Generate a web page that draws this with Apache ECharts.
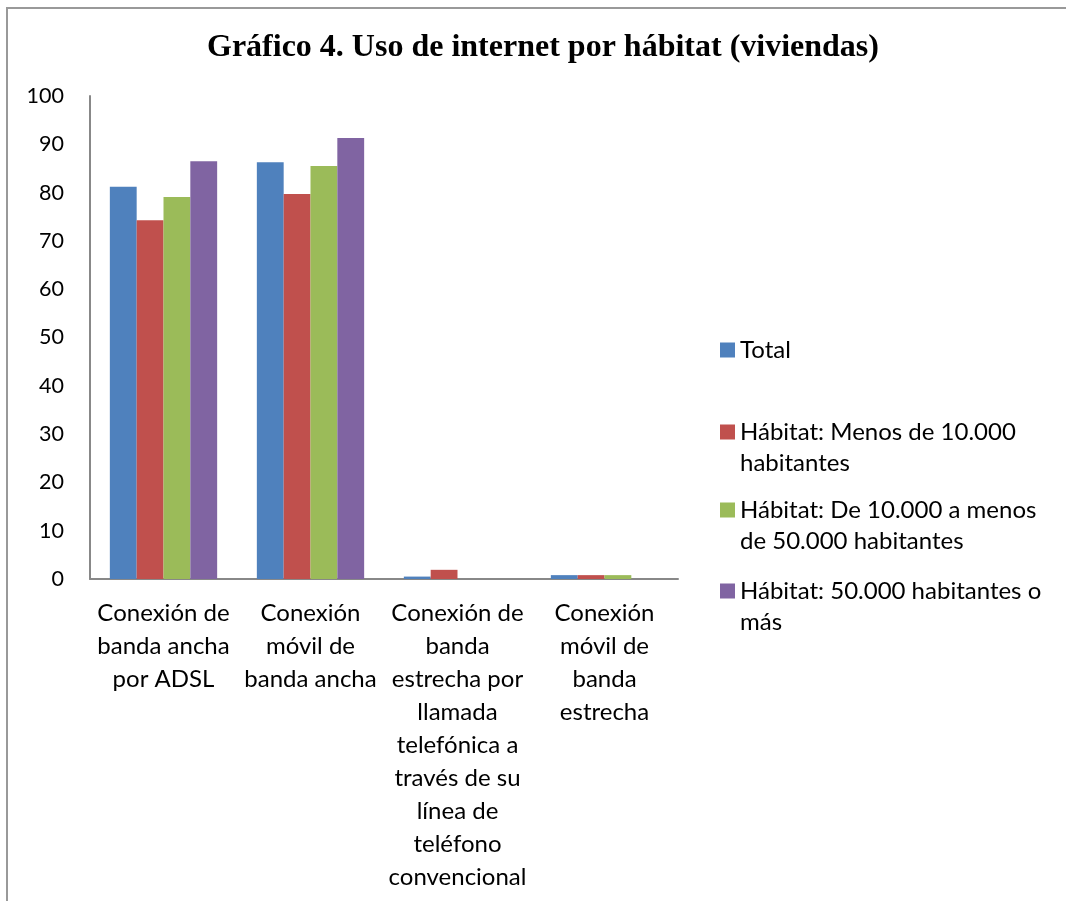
<!DOCTYPE html>
<html><head><meta charset="utf-8">
<script src="https://cdn.jsdelivr.net/npm/echarts@6/dist/echarts.min.js"></script>
<style>html,body{margin:0;padding:0;background:#fff}#c{width:1066px;height:901px}</style>
</head><body><div id="c"></div>
<script>
const categories = [
  "Conexión de\nbanda ancha\npor ADSL",
  "Conexión\nmóvil de\nbanda ancha",
  "Conexión de\nbanda\nestrecha por\nllamada\ntelefónica a\ntravés de su\nlínea de\nteléfono\nconvencional",
  "Conexión\nmóvil de\nbanda\nestrecha"
];
const seriesNames = [
  "Total",
  "Hábitat: Menos de 10.000 habitantes",
  "Hábitat: De 10.000 a menos de 50.000 habitantes",
  "Hábitat: 50.000 habitantes o más"
];
const legendLabels = [
  "Total",
  "Hábitat: Menos de 10.000\nhabitantes",
  "Hábitat: De 10.000 a menos\nde 50.000 habitantes",
  "Hábitat: 50.000 habitantes o\nmás"
];
const total = [81.2, 86.3, 0.5, 0.8];
const menos10k = [74.3, 79.7, 1.9, 0.8];
const de10a50k = [79.1, 85.5, 0, 0.8];
const mas50k = [86.5, 91.3, 0, 0];
const yTicks = [0, 10, 20, 30, 40, 50, 60, 70, 80, 90, 100];
const colors = ["#4F81BD", "#C0504D", "#9BBB59", "#8064A2"];
const values = [total, menos10k, de10a50k, mas50k];

const FONT = "Lato";
const legendCenters = [350, 432, 510, 591];
const LH = 31;
const legends = seriesNames.map((n, i) => {
  const multi = legendLabels[i].indexOf("\n") >= 0;
  return {
    orient: "vertical",
    left: 720,
    top: legendCenters[i] - LH / 2,
    padding: 0,
    itemWidth: 15, itemHeight: multi ? 46 : 15, itemGap: 0,
    selectedMode: false,
    data: [{
      name: n,
      icon: multi ? "path://M0,0L15,0L15,15L0,15Z M0,46L0.01,46L0.01,46.01Z" : "rect"
    }],
    formatter: function () { return legendLabels[i]; },
    textStyle: { fontFamily: FONT, fontSize: 24, color: "#000", lineHeight: LH }
  };
});

const chart = echarts.init(document.getElementById("c"));
chart.setOption({
  animation: false,
  backgroundColor: "#fff",
  title: {
    text: "Gráfico 4. Uso de internet por hábitat (viviendas)",
    left: 538, top: 27, textAlign: "center",
    textStyle: { fontFamily: "Liberation Serif", fontWeight: "bold", fontSize: 32, color: "#000" }
  },
  graphic: [
    { type: "polyline", shape: { points: [[7, 901], [7, 8], [1066, 8]] },
      style: { stroke: "#999", lineWidth: 2, fill: null } }
  ],
  legend: legends,
  grid: { left: 90, right: 388, top: 96, bottom: 322 },
  xAxis: {
    type: "category",
    data: categories,
    axisLine: { lineStyle: { color: "#888", width: 2 } },
    axisTick: { show: false },
    axisLabel: { interval: 0, margin: 18, fontFamily: FONT, fontSize: 24, color: "#000", lineHeight: 33, align: "center" }
  },
  yAxis: {
    type: "value", min: 0, max: 100, interval: 10,
    axisLine: { show: true, lineStyle: { color: "#888", width: 2 } },
    axisTick: { show: false },
    splitLine: { show: false },
    axisLabel: { margin: 26, fontFamily: FONT, fontSize: 21.5, color: "#000",
      formatter: v => yTicks.indexOf(v) >= 0 ? String(v) : "" }
  },
  series: seriesNames.map((n, i) => ({
    name: n, type: "bar", data: values[i],
    barGap: "0%", barCategoryGap: "27%",
    itemStyle: { color: colors[i] }
  }))
});
</script></body></html>
